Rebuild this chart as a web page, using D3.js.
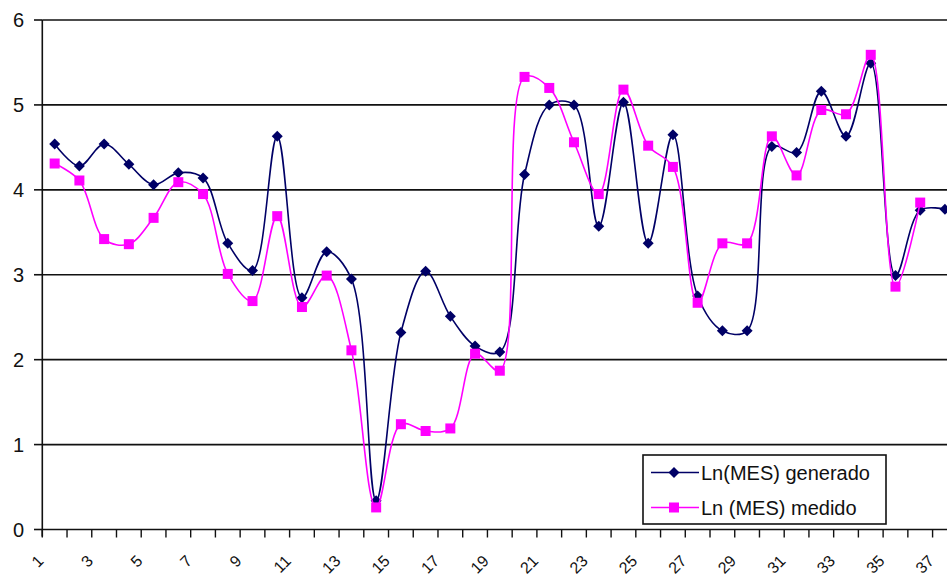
<!DOCTYPE html>
<html>
<head>
<meta charset="utf-8">
<script src="https://cdn.jsdelivr.net/npm/d3@7"></script>
<style>
  html, body { margin: 0; padding: 0; background: #fff; }
  svg { display: block; }
  text { font-family: Arial, "Liberation Sans", sans-serif; fill: #111; }
</style>
</head>
<body>
<svg id="chart" width="947" height="581"></svg>
<script>
// ---- data ----
const categories = d3.range(1, 38);
const generado = [4.54, 4.28, 4.54, 4.30, 4.06, 4.20, 4.14, 3.37, 3.05, 4.63,
                  2.73, 3.27, 2.95, 0.34, 2.32, 3.04, 2.51, 2.16, 2.09, 4.18,
                  5.00, 5.00, 3.57, 5.03, 3.37, 4.65, 2.75, 2.34, 2.34, 4.51,
                  4.44, 5.16, 4.63, 5.49, 2.99, 3.76, 3.77];
const medido   = [4.31, 4.11, 3.42, 3.36, 3.67, 4.09, 3.95, 3.01, 2.69, 3.69,
                  2.62, 2.99, 2.11, 0.26, 1.24, 1.16, 1.19, 2.07, 1.87, 5.33,
                  5.20, 4.56, 3.95, 5.18, 4.52, 4.27, 2.67, 3.37, 3.37, 4.63,
                  4.17, 4.94, 4.89, 5.59, 2.86, 3.85, null];
const yTicks = [0, 1, 2, 3, 4, 5, 6];
const xTickLabels = categories.filter(d => d % 2 === 1);
const seriesNames = ["Ln(MES) generado", "Ln (MES) medido"];

// ---- layout ----
const svg = d3.select("#chart");
const left = 42.3, bandW = 24.73;
const x = d3.scaleBand().domain(categories).range([left, left + categories.length * bandW]).padding(0);
const y = d3.scaleLinear().domain([0, 6]).range([529.5, 20]);
const cx = d => x(d) + x.bandwidth() / 2;

// gridlines
svg.append("g").selectAll("line").data(yTicks.filter(d => d > 0)).join("line")
  .attr("x1", left).attr("x2", 947)
  .attr("y1", d => y(d)).attr("y2", d => y(d))
  .attr("stroke", "#111").attr("stroke-width", 1.6);

// y axis
const yAxis = svg.append("g");
yAxis.append("line").attr("x1", left).attr("x2", left).attr("y1", y(6)).attr("y2", y(0) + 7)
  .attr("stroke", "#111").attr("stroke-width", 1.6);
yAxis.selectAll("line.tk").data(yTicks).join("line").attr("class", "tk")
  .attr("x1", 34).attr("x2", left).attr("y1", d => y(d)).attr("y2", d => y(d))
  .attr("stroke", "#111").attr("stroke-width", 1.6);
yAxis.selectAll("text").data(yTicks).join("text")
  .attr("x", 24).attr("y", d => y(d) + 7)
  .attr("text-anchor", "end").style("font-size", "20px")
  .text(d => d);

// x axis
const xAxis = svg.append("g");
xAxis.append("line").attr("x1", left).attr("x2", 947).attr("y1", y(0)).attr("y2", y(0))
  .attr("stroke", "#111").attr("stroke-width", 1.6);
xAxis.selectAll("line.tk").data(d3.range(0, categories.length + 1)).join("line").attr("class", "tk")
  .attr("x1", i => left + i * bandW).attr("x2", i => left + i * bandW)
  .attr("y1", y(0)).attr("y2", y(0) + 8)
  .attr("stroke", "#111").attr("stroke-width", 1.4);
xAxis.selectAll("text").data(xTickLabels).join("text")
  .attr("transform", d => `translate(${cx(d) - 10},${562}) rotate(-45)`)
  .attr("text-anchor", "end").style("font-size", "16px")
  .text(d => d);

// lines
const line = d3.line()
  .defined(d => d.v != null)
  .x(d => cx(d.c)).y(d => y(d.v))
  .curve(d3.curveCatmullRom.alpha(0.5));

const genData = categories.map((c, i) => ({ c, v: generado[i] }));
const medData = categories.map((c, i) => ({ c, v: medido[i] }));
const navy = "#000066", magenta = "#ff00ff";

svg.append("path").datum(genData).attr("d", line)
  .attr("fill", "none").attr("stroke", navy).attr("stroke-width", 1.6);
svg.append("g").selectAll("path").data(genData.filter(d => d.v != null)).join("path")
  .attr("d", "M0,-5.5L5.5,0L0,5.5L-5.5,0Z")
  .attr("transform", d => `translate(${cx(d.c)},${y(d.v)})`)
  .attr("fill", navy);

svg.append("path").datum(medData).attr("d", line)
  .attr("fill", "none").attr("stroke", magenta).attr("stroke-width", 1.6);
svg.append("g").selectAll("rect").data(medData.filter(d => d.v != null)).join("rect")
  .attr("x", d => cx(d.c) - 5).attr("y", d => y(d.v) - 5)
  .attr("width", 10).attr("height", 10)
  .attr("fill", magenta);

// legend
const lg = svg.append("g");
lg.append("rect").attr("x", 643).attr("y", 455).attr("width", 243).attr("height", 69)
  .attr("fill", "#fff").attr("stroke", "#111").attr("stroke-width", 1.6);
const rows = [
  { name: seriesNames[0], color: navy, shape: "diamond", yc: 472.5 },
  { name: seriesNames[1], color: magenta, shape: "square", yc: 507.5 }
];
rows.forEach(r => {
  lg.append("line").attr("x1", 651).attr("x2", 699).attr("y1", r.yc).attr("y2", r.yc)
    .attr("stroke", r.color).attr("stroke-width", 1.6);
  if (r.shape === "diamond") {
    lg.append("path").attr("d", "M0,-5.5L5.5,0L0,5.5L-5.5,0Z")
      .attr("transform", `translate(674,${r.yc})`).attr("fill", r.color);
  } else {
    lg.append("rect").attr("x", 669).attr("y", r.yc - 5).attr("width", 10).attr("height", 10)
      .attr("fill", r.color);
  }
  lg.append("text").attr("x", 701).attr("y", r.yc + 7).style("font-size", "20px").text(r.name);
});
</script>
</body>
</html>
